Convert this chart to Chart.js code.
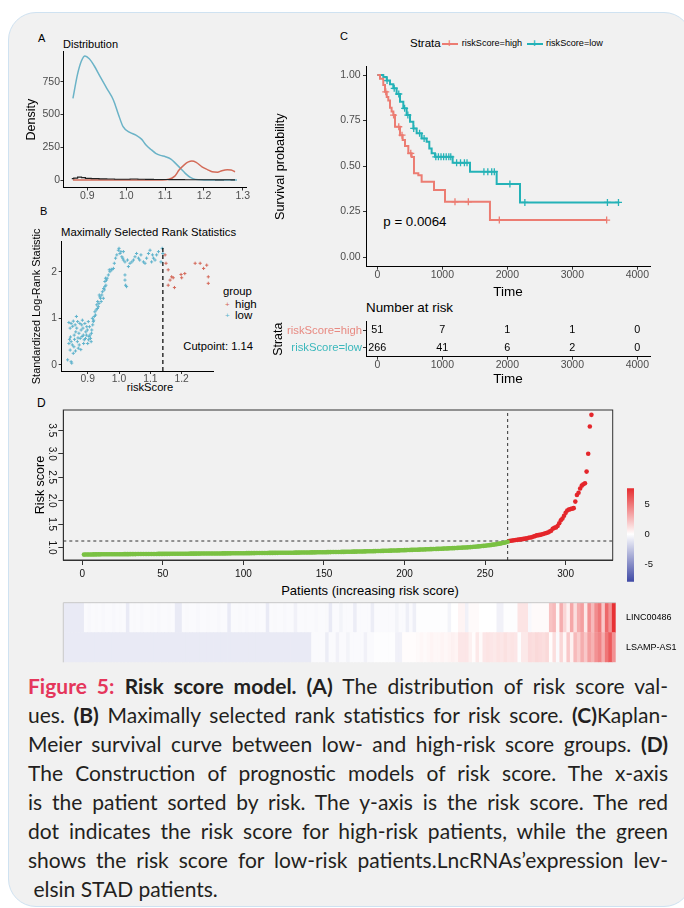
<!DOCTYPE html>
<html>
<head>
<meta charset="utf-8">
<script src="https://cdn.jsdelivr.net/npm/chart.js@4.4.1/dist/chart.umd.min.js"></script>
<style>
  html, body { margin: 0; padding: 0; background: #fff; }
  body { width: 684px; height: 908px; position: relative; overflow: hidden; font-family: "Liberation Sans", Arial, sans-serif; }
  #card { position: absolute; left: 8px; top: 12px; width: 682px; height: 893px; background: #f1f1f1; border: 1.5px solid #cfe2f1; border-radius: 28px; }
  canvas { position: absolute; }
  .t { position: absolute; line-height: 1; transform: translateY(-50%); white-space: nowrap; color: #000; }
  .c { text-align: center; }
  .key { position: absolute; height: 2px; }
  #caption { position: absolute; left: 28px; top: 670.5px; width: 640px; font-family: Lato, "Open Sans", sans-serif; font-size: 21px; line-height: 29px; color: #231f20; }
  #caption div { text-align: justify; text-align-last: justify; height: 29px; overflow: visible; }
  #caption div.last { text-align-last: left; }
  #caption .fig { color: #e5365b; font-weight: 700; }
</style>
</head>
<body>
<div id="card"></div>

<div class="t" style="left:38px;top:38px;font-size:11px">A</div>
<div class="t" style="left:63px;top:43.7px;font-size:11px">Distribution</div>

<div class="t" style="left:40px;top:211px;font-size:11px">B</div>
<div class="t" style="left:61px;top:233px;font-size:11.3px">Maximally Selected Rank Statistics</div>
<div class="t" style="left:223px;top:291.7px;font-size:11.3px">group</div>
<div class="t" style="left:225px;top:305px;font-size:8px;color:#d4695a">+</div>
<div class="t" style="left:235px;top:305px;font-size:11.5px">high</div>
<div class="t" style="left:225px;top:316px;font-size:8px;color:#5fb3cc">+</div>
<div class="t" style="left:235px;top:315.7px;font-size:11.5px">low</div>
<div class="t" style="left:183.3px;top:346.7px;font-size:11.2px">Cutpoint: 1.14</div>
<div class="t c" style="left:100px;width:100px;top:388px;font-size:11.2px">riskScore</div>

<div class="t" style="left:340px;top:35.5px;font-size:11px">C</div>
<div class="t" style="left:410px;top:44px;font-size:11.5px">Strata</div>
<div class="key" style="left:441.7px;top:43px;width:16.6px;background:#ec7c72"></div>
<div class="t" style="left:446.5px;top:44px;font-size:10px;font-weight:700;color:#ec7c72">+</div>
<div class="t" style="left:461.7px;top:44px;font-size:9.1px">riskScore=high</div>
<div class="key" style="left:526.7px;top:43px;width:16.6px;background:#24b2b7"></div>
<div class="t" style="left:531.5px;top:44px;font-size:10px;font-weight:700;color:#24b2b7">+</div>
<div class="t" style="left:546px;top:44px;font-size:9.1px">riskScore=low</div>
<div class="t" style="left:383.3px;top:221.7px;font-size:13.3px">p = 0.0064</div>
<div class="t" style="left:366px;top:308.3px;font-size:13.4px">Number at risk</div>

<div class="t" style="left:37px;top:403px;font-size:12px">D</div>
<div class="t c" style="left:270px;width:200px;top:590px;font-size:13px">Patients (increasing risk score)</div>

<div id="caption">
<div><span class="fig">Figure 5:</span> <b>Risk score model. (A)</b> The distribution of risk score val-</div>
<div>ues. <b>(B)</b> Maximally selected rank statistics for risk score. <b>(C)</b>Kaplan-</div>
<div>Meier survival curve between low- and high-risk score groups. <b>(D)</b></div>
<div>The Construction of prognostic models of risk score. The x-axis</div>
<div>is the patient sorted by risk. The y-axis is the risk score. The red</div>
<div>dot indicates the risk score for high-risk patients, while the green</div>
<div>shows the risk score for low-risk patients.LncRNAs’expression lev-</div>
<div class="last">&nbsp;elsin STAD patients.</div>
</div>

<script>
// ---------- A: distribution ----------
const densLowX = [0.863, 0.875, 0.885, 0.894, 0.905, 0.918, 0.933, 0.95, 0.967, 0.98, 0.992, 1.008, 1.025, 1.04, 1.051, 1.065, 1.076, 1.088, 1.101, 1.115, 1.127, 1.14, 1.152, 1.165, 1.178, 1.2, 1.23, 1.26, 1.285];
const densLowY = [623, 810, 910, 946, 925, 870, 789, 700, 611, 500, 407, 365, 343, 310, 267, 230, 204, 188, 178, 160, 127, 88, 51, 20, 5, 1, 0, 0, 0];
const densHighX = [0.863, 0.95, 1.05, 1.09, 1.11, 1.125, 1.136, 1.15, 1.16, 1.169, 1.18, 1.195, 1.21, 1.221, 1.235, 1.246, 1.26, 1.27, 1.28];
const densHighY = [0, 0, 0, 1, 6, 30, 76, 118, 138, 145, 135, 101, 78, 63, 60, 71, 78, 76, 63];
const histX = [0.86, 0.87, 0.88, 0.89, 0.90, 0.92, 0.94, 0.96, 0.98, 1.00, 1.02, 1.04, 1.06, 1.08, 1.10, 1.12, 1.14, 1.16, 1.18, 1.20, 1.22, 1.24, 1.26, 1.28];
const histY = [10, 14, 22, 18, 12, 10, 9, 8, 6, 6, 8, 6, 5, 4, 4, 3, 3, 2, 2, 2, 2, 1, 2, 1];
const aTicksX = [0.9, 1.0, 1.1, 1.2, 1.3];
const aTicksY = [0, 250, 500, 750];

// ---------- B: maximally selected rank statistics ----------
const bLowX = [0.836, 0.847, 0.849, 0.844, 0.840, 0.847, 0.851, 0.854, 0.844, 0.847, 0.840, 0.854, 0.860, 0.864, 0.862, 0.857, 0.867, 0.870, 0.876, 0.872, 0.881, 0.883, 0.879, 0.886, 0.889, 0.894, 0.897, 0.902, 0.900, 0.904, 0.907, 0.911, 0.913, 0.915, 0.921, 0.923, 0.918, 0.929, 0.932, 0.934, 0.937, 0.939, 0.945, 0.943, 0.950, 0.953, 0.955, 0.957, 0.960, 0.955, 0.971, 0.977, 0.982, 0.985, 0.993, 0.998, 1.000, 1.003, 1.009, 1.014, 1.014, 1.019, 1.019, 1.021, 1.024, 1.019, 1.030, 1.035, 1.046, 1.051, 1.056, 1.062, 1.070, 1.078, 1.083, 1.088, 1.094, 1.099, 1.104, 1.115, 1.120, 1.126, 1.134, 1.138, 1.140,
  0.842, 0.845, 0.852, 0.856, 0.858, 0.861, 0.865, 0.868, 0.869, 0.873, 0.875, 0.878, 0.882, 0.885, 0.887, 0.891, 0.893, 0.896, 0.899, 0.903, 0.906, 0.909, 0.912, 0.916, 0.919, 0.925, 0.927, 0.931, 0.936, 0.941, 0.947, 0.951, 0.958, 0.962, 0.966, 0.969, 0.975, 0.989, 1.006, 1.012, 1.027, 1.041, 1.066, 1.107, 1.110];
const bLowY = [0.11, 0.07, 0.04, 0.32, 0.46, 0.50, 0.43, 0.25, 0.79, 0.89, 0.91, 0.94, 0.86, 1.04, 0.71, 0.64, 0.50, 0.36, 0.57, 0.68, 0.86, 0.96, 0.75, 0.64, 0.54, 0.71, 0.82, 0.93, 0.46, 0.61, 0.64, 0.50, 0.75, 1.00, 1.04, 1.14, 0.93, 1.29, 1.36, 1.25, 1.50, 1.46, 1.50, 1.36, 1.43, 1.61, 1.68, 1.86, 1.82, 1.79, 2.00, 2.04, 2.07, 2.18, 2.36, 2.46, 2.50, 2.39, 2.32, 2.43, 2.25, 2.21, 1.93, 1.71, 1.68, 1.82, 2.11, 2.18, 2.25, 2.32, 2.39, 2.29, 2.36, 2.21, 2.18, 2.29, 2.39, 2.46, 2.21, 2.25, 2.36, 2.43, 2.21, 2.50, 2.39,
  0.55, 0.60, 0.83, 0.39, 0.55, 0.30, 0.79, 0.93, 0.58, 0.43, 0.89, 0.33, 0.61, 0.79, 0.46, 0.89, 0.57, 0.64, 0.75, 0.54, 0.82, 0.57, 0.68, 0.86, 0.96, 1.07, 1.18, 1.21, 1.32, 1.43, 1.57, 1.64, 1.71, 1.86, 1.93, 2.04, 2.05, 2.29, 2.43, 2.29, 2.25, 2.21, 2.25, 2.36, 2.29];
const bHighX = [1.147, 1.150, 1.157, 1.163, 1.157, 1.168, 1.173, 1.177, 1.198, 1.200, 1.210, 1.243, 1.259, 1.270, 1.280, 1.285, 1.285];
const bHighY = [2.36, 2.18, 2.04, 1.82, 1.71, 1.89, 1.87, 1.66, 1.94, 1.87, 1.96, 2.18, 2.18, 2.07, 2.14, 1.89, 1.75];
const cutPoint = 1.14;
const cutStat = 2.53;
const bTicksX = [0.9, 1.0, 1.1, 1.2];
const bTicksY = [0, 1, 2];

// ---------- C: Kaplan-Meier ----------
const hiTime = [0, 41, 92, 118, 145, 169, 195, 220, 246, 272, 349, 390, 426, 477, 528, 564, 631, 682, 872, 1041, 1733, 3528];
const hiSurv = [1, 0.98, 0.945, 0.908, 0.88, 0.86, 0.82, 0.80, 0.78, 0.716, 0.67, 0.643, 0.61, 0.57, 0.55, 0.46, 0.45, 0.414, 0.368, 0.304, 0.203, 0.203];
const hiCensT = [130, 250, 330, 380, 515, 1195, 1400, 1877, 3528];
const hiCensS = [0.908, 0.78, 0.716, 0.67, 0.57, 0.304, 0.304, 0.203, 0.203];
const loTime = [0, 92, 144, 195, 246, 297, 349, 400, 451, 503, 554, 605, 682, 759, 800, 836, 887, 1159, 1426, 1836, 2195, 3723];
const loSurv = [1, 0.99, 0.97, 0.95, 0.927, 0.896, 0.853, 0.817, 0.78, 0.744, 0.707, 0.68, 0.652, 0.634, 0.597, 0.57, 0.551, 0.518, 0.469, 0.401, 0.30, 0.30];
const loCensT = [150, 260, 330, 420, 470, 560, 650, 720, 900, 940, 980, 1020, 1060, 1100, 1130, 1220, 1280, 1340, 1380, 1640, 1700, 1760, 1800, 2040, 2270, 3540, 3710];
const loCensS = [0.97, 0.927, 0.896, 0.817, 0.78, 0.707, 0.68, 0.652, 0.551, 0.551, 0.551, 0.551, 0.551, 0.551, 0.551, 0.518, 0.518, 0.518, 0.518, 0.469, 0.469, 0.469, 0.469, 0.401, 0.30, 0.30, 0.30];
const cTicksX = [0, 1000, 2000, 3000, 4000];
const cTicksY = [0, 0.25, 0.5, 0.75, 1];
const riskGroups = ['riskScore=high', 'riskScore=low'];
const riskTimes = [0, 1000, 2000, 3000, 4000];
const riskHigh = [51, 7, 1, 1, 0];
const riskLow = [266, 41, 6, 2, 0];

// ---------- D: risk score per patient ----------
const scoreLow = [
  0.850, 0.851, 0.852, 0.852, 0.853, 0.853, 0.854, 0.854, 0.855, 0.855,
  0.855, 0.856, 0.856, 0.856, 0.857, 0.857, 0.857, 0.858, 0.858, 0.858,
  0.858, 0.859, 0.859, 0.859, 0.859, 0.860, 0.860, 0.860, 0.860, 0.861,
  0.861, 0.861, 0.861, 0.862, 0.862, 0.862, 0.862, 0.862, 0.863, 0.863,
  0.863, 0.863, 0.864, 0.864, 0.864, 0.864, 0.865, 0.865, 0.865, 0.865,
  0.866, 0.866, 0.866, 0.866, 0.867, 0.867, 0.867, 0.867, 0.868, 0.868,
  0.868, 0.868, 0.869, 0.869, 0.869, 0.869, 0.870, 0.870, 0.870, 0.870,
  0.871, 0.871, 0.871, 0.872, 0.872, 0.872, 0.872, 0.873, 0.873, 0.873,
  0.874, 0.874, 0.874, 0.875, 0.875, 0.875, 0.876, 0.876, 0.876, 0.877,
  0.877, 0.877, 0.878, 0.878, 0.878, 0.879, 0.879, 0.879, 0.880, 0.880,
  0.880, 0.881, 0.881, 0.881, 0.882, 0.882, 0.882, 0.883, 0.883, 0.883,
  0.884, 0.884, 0.884, 0.885, 0.885, 0.886, 0.886, 0.886, 0.887, 0.887,
  0.887, 0.888, 0.888, 0.889, 0.889, 0.889, 0.890, 0.890, 0.891, 0.891,
  0.891, 0.892, 0.892, 0.893, 0.893, 0.894, 0.894, 0.895, 0.895, 0.896,
  0.896, 0.897, 0.897, 0.898, 0.898, 0.899, 0.899, 0.900, 0.900, 0.901,
  0.901, 0.902, 0.903, 0.903, 0.904, 0.904, 0.905, 0.906, 0.906, 0.907,
  0.908, 0.908, 0.909, 0.910, 0.910, 0.911, 0.912, 0.913, 0.913, 0.914,
  0.915, 0.916, 0.916, 0.917, 0.918, 0.919, 0.920, 0.921, 0.922, 0.923,
  0.924, 0.925, 0.926, 0.927, 0.928, 0.929, 0.930, 0.931, 0.932, 0.933,
  0.934, 0.935, 0.936, 0.937, 0.938, 0.940, 0.941, 0.942, 0.943, 0.945,
  0.946, 0.947, 0.948, 0.950, 0.951, 0.952, 0.954, 0.955, 0.956, 0.958,
  0.959, 0.960, 0.962, 0.963, 0.964, 0.966, 0.967, 0.969, 0.970, 0.972,
  0.973, 0.975, 0.976, 0.978, 0.979, 0.981, 0.982, 0.984, 0.986, 0.988,
  0.989, 0.991, 0.993, 0.995, 0.997, 0.999, 1.001, 1.003, 1.005, 1.008,
  1.010, 1.013, 1.016, 1.019, 1.022, 1.025, 1.029, 1.032, 1.036, 1.040,
  1.044, 1.048, 1.052, 1.057, 1.062, 1.067, 1.072, 1.078, 1.084, 1.090,
  1.097, 1.104, 1.112, 1.125];
const scoreHigh = [
  1.140, 1.145, 1.150, 1.155, 1.160, 1.165, 1.170, 1.175, 1.180, 1.185,
  1.190, 1.200, 1.210, 1.215, 1.220, 1.235, 1.245, 1.260, 1.265, 1.270,
  1.280, 1.290, 1.300, 1.310, 1.320, 1.340, 1.360, 1.400, 1.420, 1.430,
  1.460, 1.520, 1.580, 1.620, 1.680, 1.740, 1.790, 1.810, 1.820, 1.830,
  1.840, 1.980, 2.120, 2.170, 2.260, 2.320, 2.350, 2.370,
  2.620, 3.000, 3.580, 3.830];
const riskCut = 1.14;
const dTicksX = [0, 50, 100, 150, 200, 250, 300];
const dTicksY = [1.0, 1.5, 2.0, 2.5, 3.0, 3.5];

// ---------- heatmap (columns of two patients each) ----------
const hmGenes = ['LINC00486', 'LSAMP-AS1'];
const hmLinc = [
  -0.9, -0.9, -0.9, -0.9, -0.9, -0.9,
  -0.2, -0.3, -0.2, -0.25, -0.2, -0.3, -0.2, -0.2, -0.3, -0.2, -0.25, -0.2,
  -0.9,
  -0.2, -0.25, -0.2, -0.3, -0.2, -0.2, -0.25, -0.2, -0.3, -0.2, -0.2, -0.25, -0.2,
  -0.9, -0.9,
  -0.2, -0.25, -0.2, -0.2, -0.3, -0.2, -0.2, -0.25, -0.2, -0.2, -0.3, -0.2, -0.2,
  -0.9,
  -0.2, -0.2, -0.25, -0.2, -0.3, -0.2, -0.2, -0.25, -0.2, -0.2,
  -0.9,
  -0.2, -0.25, -0.2, -0.2, -0.3, -0.2, -0.2,
  -0.6,
  -0.2, -0.2, -0.25, -0.2, -0.2, -0.3, -0.2, -0.2, -0.25,
  -0.9,
  -0.2, -0.2, -0.5, -0.2, -0.2, -0.2,
  -0.8,
  -0.2, -0.2, -0.2, -0.2,
  -0.8,
  -0.2, -0.2, -0.2, -0.2, -0.2, -0.2, -0.5, -0.2, -0.2,
  -0.7, -0.2, -0.7,
  -0.1, -0.1, -0.1, -0.1, -0.1, -0.1, -0.1, -0.1, -0.1,
  -0.5, 0, 0, 0.4, 0.4, -0.6, 0.2, 0.2, 0.2,
  0, 0, 0, 0, 0,
  -0.6, -0.6, -0.1, -0.1, -0.1, -0.1,
  1.0, 1.0, 1.0, -0.3,
  0.2, 0.2, 0.2, 0.2, 0.2,
  2.2,
  2.5, 0.3, 3.0, 1.5, 0.5, 3.2, 1.2, 3.0, 3.5, 0.8, 4.0, 2.5, 4.2, 5.0, 2.0, 5.5, 4.0, 7.5];
const hmLsamp = [
  -0.9, -0.9, -0.9, -0.9, -0.9, -0.9, -0.9, -0.9, -0.9, -0.9,
  -0.9, -0.9, -0.9, -0.9, -0.9, -0.9, -0.9, -0.9, -0.9, -0.9,
  -0.9, -0.9, -0.9, -0.9, -0.9, -0.9, -0.9, -0.9, -0.9, -0.9,
  -0.9, -0.9, -0.9, -0.9, -0.9, -0.9, -0.9, -0.9, -0.9, -0.9,
  -0.9, -0.9, -0.9, -0.9, -0.9, -0.9, -0.9, -0.9, -0.9, -0.9,
  -0.9, -0.9, -0.9, -0.9, -0.9, -0.9, -0.9, -0.9, -0.9, -0.9,
  -0.9, -0.9, -0.9, -0.9, -0.9, -0.9, -0.9, -0.9, -0.9, -0.9,
  -0.9,
  -0.2, -0.2, -0.2, -0.2,
  -0.8,
  -0.2,
  -0.2, -0.6, -0.2, -0.2, -0.5, -0.2, -0.2, -0.2, -0.2, -0.6, -0.2, -0.2,
  -0.1, -0.1, -0.1, -0.1, -0.1, -0.1,
  -0.6, -0.6,
  0.1, 0.1, 0.1, 0.1,
  0.2, 0.3, 0.2, 0.3, 0.4, 0.3, 0.3, 0.4, 0.3, 0.4, 0.5, 0.4,
  0.9, 0.9, 0.9,
  0.5, 0.1, 0.8, 0.2,
  0.9, 1.0, 0.9, 0.8, 1.0, 0.9, 1.1, 0.9, 1.0, 0.9,
  -0.1,
  0.8, 0.8,
  1.3, 1.2, 1.4, 1.3, 1.2, 1.4,
  0.1, 1.2, -0.2, 1.5, 0.3,
  2.0, 0.5, 2.5, 1.8,
  3.0, 2.0, 3.5, 2.8, 4.0,
  4.5, 3.0, 5.0, 6.0, 4.0];
const cbRange = [-7.97, 7.66];
const cbTicks = [-5, 0, 5];

// ---------- helpers ----------
Chart.defaults.font.family = '"Liberation Sans", Arial, sans-serif';
Chart.defaults.color = '#4d4d4d';
Chart.defaults.animation = false;
Chart.defaults.responsive = false;
Chart.defaults.maintainAspectRatio = false;
Chart.defaults.plugins.legend.display = false;
Chart.defaults.plugins.tooltip.enabled = false;

function makeCanvas(id, left, top, w, h) {
  const c = document.createElement('canvas');
  c.id = id;
  c.width = w;
  c.height = h;
  c.style.left = left + 'px';
  c.style.top = top + 'px';
  c.style.width = w + 'px';
  c.style.height = h + 'px';
  document.body.appendChild(c);
  return c.getContext('2d');
}
const setTicks = values => scale => { scale.ticks = values.map(v => ({ value: v })); };
const fixWidth = w => scale => { scale.width = w; };
const fixHeight = h => scale => { scale.height = h; };
const pts = (xs, ys) => xs.map((x, i) => ({ x, y: ys[i] }));

const ggGrid = { display: true, drawOnChartArea: false, drawTicks: true, tickLength: 3, color: '#333' };
const ggBorder = { display: true, color: '#000', width: 1 };

function heatColor(v) {
  const t = Math.min(Math.abs(v) / 8, 1);
  const end = v < 0 ? [62, 72, 165] : [229, 35, 38];
  const c = end.map(e => Math.round(255 + (e - 255) * t));
  return `rgb(${c.join(',')})`;
}

// ---------- A ----------
new Chart(makeCanvas('chartA', 0, 40, 262, 172), {
  type: 'scatter',
  data: {
    datasets: [
      { data: pts(histX, histY), showLine: true, stepped: 'middle', borderColor: '#222', borderWidth: 1.2, pointRadius: 0 },
      { data: pts(densHighX, densHighY), showLine: true, cubicInterpolationMode: 'monotone', borderColor: '#d36b58', borderWidth: 1.5, pointRadius: 0 },
      { data: pts(densLowX, densLowY), showLine: true, cubicInterpolationMode: 'monotone', borderColor: '#6bb3c7', borderWidth: 1.5, pointRadius: 0 }
    ]
  },
  options: {
    layout: { padding: { left: 0, top: 11.7, right: 15.3, bottom: 0 } },
    scales: {
      x: {
        type: 'linear', min: 0.8387, max: 1.31,
        afterBuildTicks: setTicks(aTicksX), afterFit: fixHeight(24.5),
        grid: ggGrid, border: ggBorder,
        ticks: { font: { size: 10.5 }, padding: -1, callback: v => v.toFixed(1) }
      },
      y: {
        type: 'linear', min: -57, max: 979,
        afterBuildTicks: setTicks(aTicksY), afterFit: fixWidth(63.5),
        grid: ggGrid, border: ggBorder,
        ticks: { font: { size: 10.5 }, padding: 0.5, callback: v => String(v) },
        title: { display: true, text: 'Density', color: '#000', font: { size: 12.5 }, padding: { top: 24.2, bottom: 0 } }
      }
    }
  }
});

// ---------- B ----------
new Chart(makeCanvas('chartB', 0, 225, 262, 172), {
  type: 'scatter',
  data: {
    datasets: [
      { data: [{ x: cutPoint, y: -0.129 }, { x: cutPoint, y: cutStat }], showLine: true, borderDash: [4, 3], borderColor: '#000', borderWidth: 1.2, pointRadius: 0 },
      { data: pts(bLowX, bLowY), pointStyle: 'cross', pointRadius: 1.6, borderWidth: 1, borderColor: '#5fb3cc' },
      { data: pts(bHighX, bHighY), pointStyle: 'cross', pointRadius: 1.6, borderWidth: 1, borderColor: '#d4695a' }
    ]
  },
  options: {
    layout: { padding: { left: 0, top: 16.7, right: 48.7, bottom: 0 } },
    scales: {
      x: {
        type: 'linear', min: 0.817, max: 1.301,
        afterBuildTicks: setTicks(bTicksX), afterFit: fixHeight(26),
        grid: ggGrid, border: ggBorder,
        ticks: { font: { size: 10.3 }, padding: -1, callback: v => v.toFixed(1) }
      },
      y: {
        type: 'linear', min: -0.129, max: 2.643,
        afterBuildTicks: setTicks(bTicksY), afterFit: fixWidth(61.7),
        grid: ggGrid, border: ggBorder,
        ticks: { font: { size: 10.3 }, padding: 1.7 },
        title: { display: true, text: 'Standardized Log-Rank Statistic', color: '#000', font: { size: 10.9 }, padding: { top: 30.2, bottom: 0 } }
      }
    }
  }
});

// ---------- C ----------
const cX = {
  type: 'linear', min: -174, max: 4195,
  afterBuildTicks: setTicks(cTicksX),
  grid: ggGrid, border: ggBorder
};
new Chart(makeCanvas('chartC', 270, 55, 400, 245), {
  type: 'scatter',
  data: {
    datasets: [
      { data: pts(hiTime, hiSurv), showLine: true, stepped: true, borderColor: '#ec7c72', borderWidth: 2, pointRadius: 0 },
      { data: pts(loTime, loSurv), showLine: true, stepped: true, borderColor: '#24b2b7', borderWidth: 2, pointRadius: 0 },
      { data: pts(hiCensT, hiCensS), pointStyle: 'cross', pointRadius: 3.5, borderWidth: 1.3, borderColor: '#ec7c72' },
      { data: pts(loCensT, loCensS), pointStyle: 'cross', pointRadius: 3.5, borderWidth: 1.3, borderColor: '#24b2b7' }
    ]
  },
  options: {
    layout: { padding: { left: 0, top: 11.7, right: 20, bottom: 0 } },
    scales: {
      x: Object.assign({}, cX, {
        afterFit: fixHeight(33.3),
        ticks: { font: { size: 10.5 }, padding: -1, callback: v => String(v) },
        title: { display: true, text: 'Time', color: '#000', font: { size: 13.5 }, padding: { top: 5.2, bottom: 0 } }
      }),
      y: {
        type: 'linear', min: -0.053, max: 1.046,
        afterBuildTicks: setTicks(cTicksY), afterFit: fixWidth(96),
        grid: ggGrid, border: ggBorder,
        ticks: { font: { size: 10.5 }, padding: 2.3, callback: v => v.toFixed(2) },
        title: { display: true, text: 'Survival probability', color: '#000', font: { size: 12.7 }, padding: { top: 2.4, bottom: 0 } }
      }
    }
  }
});

// risk table
const riskText = {
  id: 'riskText',
  afterDatasetsDraw(chart) {
    const ctx = chart.ctx;
    ctx.save();
    ctx.font = '10.8px "Liberation Sans", Arial, sans-serif';
    ctx.fillStyle = '#000';
    ctx.textAlign = 'center';
    ctx.textBaseline = 'middle';
    chart.data.datasets.forEach((ds, i) => {
      chart.getDatasetMeta(i).data.forEach((el, j) => ctx.fillText(String(ds.counts[j]), el.x, el.y));
    });
    ctx.restore();
  }
};
new Chart(makeCanvas('chartRisk', 270, 312, 400, 75), {
  type: 'scatter',
  data: {
    datasets: [
      { data: riskTimes.map(t => ({ x: t, y: riskGroups[0] })), counts: riskHigh, pointRadius: 0 },
      { data: riskTimes.map(t => ({ x: t, y: riskGroups[1] })), counts: riskLow, pointRadius: 0 }
    ]
  },
  options: {
    layout: { padding: { left: 0, top: 9.7, right: 20, bottom: 0 } },
    scales: {
      x: Object.assign({}, cX, {
        afterFit: fixHeight(30.3),
        ticks: { font: { size: 10.5 }, padding: -1, callback: v => String(v) },
        title: { display: true, text: 'Time', color: '#000', font: { size: 13.5 }, padding: { top: 1.6, bottom: 0 } }
      }),
      y: {
        type: 'category', labels: riskGroups, offset: true,
        afterFit: fixWidth(96),
        grid: ggGrid, border: ggBorder,
        ticks: { font: { size: 11.3 }, padding: 1, color: ctx => ctx.index === 0 ? '#e88a82' : '#3bb8bc' },
        title: { display: true, text: 'Strata', color: '#000', font: { size: 12.5 }, padding: { top: 0.8, bottom: 0 } }
      }
    }
  },
  plugins: [riskText]
});

// ---------- D ----------
const boxPlugin = {
  id: 'box',
  afterDraw(chart) {
    const { left, top, width, height } = chart.chartArea;
    const ctx = chart.ctx;
    ctx.save();
    ctx.strokeStyle = '#333';
    ctx.lineWidth = 1;
    ctx.strokeRect(left, top, width, height);
    ctx.restore();
  }
};
const dXMin = -11.8, dXMax = 329.2, dYMin = 0.735, dYMax = 3.933;
new Chart(makeCanvas('chartD', 0, 400, 684, 205), {
  type: 'scatter',
  data: {
    datasets: [
      { data: scoreLow.map((v, i) => ({ x: i + 1, y: v })), pointRadius: 2.3, borderWidth: 0, backgroundColor: '#7ac143' },
      { data: scoreHigh.map((v, i) => ({ x: scoreLow.length + i + 1, y: v })), pointRadius: 2.3, borderWidth: 0, backgroundColor: '#e4262b' },
      { data: [{ x: dXMin, y: riskCut }, { x: dXMax, y: riskCut }], showLine: true, borderDash: [3, 3], borderColor: '#333', borderWidth: 1, pointRadius: 0 },
      { data: [{ x: scoreLow.length, y: dYMin }, { x: scoreLow.length, y: dYMax }], showLine: true, borderDash: [3, 3], borderColor: '#333', borderWidth: 1, pointRadius: 0 }
    ]
  },
  options: {
    layout: { padding: { left: 0, top: 10, right: 71.3, bottom: 0 } },
    scales: {
      x: {
        type: 'linear', min: dXMin, max: dXMax,
        afterBuildTicks: setTicks(dTicksX), afterFit: fixHeight(45),
        grid: { display: true, drawOnChartArea: false, drawTicks: true, tickLength: 5, color: '#333' },
        border: { display: true, color: '#333', width: 1 },
        ticks: { font: { size: 10 }, color: '#111', padding: 3.3, callback: v => String(v) }
      },
      y: {
        type: 'linear', min: dYMin, max: dYMax,
        afterBuildTicks: setTicks(dTicksY), afterFit: fixWidth(63.3),
        grid: { display: true, drawOnChartArea: false, drawTicks: true, tickLength: 5, color: '#333' },
        border: { display: true, color: '#333', width: 1 },
        ticks: { font: { size: 10 }, color: '#111', padding: 0, minRotation: -90, maxRotation: -90, crossAlign: 'center', autoSkip: false, callback: v => v.toFixed(1) },
        title: { display: true, text: 'Risk score', color: '#000', font: { size: 12.5 }, padding: { top: 33.1, bottom: 0 } }
      }
    }
  },
  plugins: [boxPlugin]
});

// ---------- heatmap ----------
const hmEdge = {
  id: 'hmEdge',
  afterDraw(chart) {
    const { left, top, right, bottom } = chart.chartArea;
    const ctx = chart.ctx;
    ctx.save();
    ctx.strokeStyle = '#c8c8c8';
    ctx.lineWidth = 1;
    ctx.beginPath();
    ctx.moveTo(left, bottom);
    ctx.lineTo(left, top);
    ctx.lineTo(right, top);
    ctx.stroke();
    ctx.restore();
  }
};
new Chart(makeCanvas('chartHeat', 0, 595, 684, 75), {
  type: 'bar',
  data: {
    labels: hmLinc.map((_, i) => i),
    datasets: [
      { label: hmGenes[1], data: hmLsamp.map(() => 1), backgroundColor: hmLsamp.map(heatColor), borderWidth: 0, barPercentage: 1, categoryPercentage: 1 },
      { label: hmGenes[0], data: hmLinc.map(() => 1), backgroundColor: hmLinc.map(heatColor), borderWidth: 0, barPercentage: 1, categoryPercentage: 1 }
    ]
  },
  options: {
    layout: { padding: { left: 63.3, top: 5, right: 0, bottom: 3.3 } },
    scales: {
      x: { stacked: true, display: false },
      y: {
        stacked: true, position: 'right', min: 0, max: 2,
        afterBuildTicks: setTicks([0.5, 1.5]), afterFit: fixWidth(68.3),
        grid: { display: false }, border: { display: false },
        ticks: { font: { size: 9 }, color: '#000', padding: 2.3, callback: v => v > 1 ? hmGenes[0] : hmGenes[1] }
      }
    }
  },
  plugins: [hmEdge]
});

// colour key
new Chart(makeCanvas('chartKey', 620, 480, 40, 110), {
  type: 'bar',
  data: {
    labels: ['key'],
    datasets: [{
      data: [cbRange],
      barPercentage: 1, categoryPercentage: 1, borderWidth: 0,
      backgroundColor: ctx => {
        const area = ctx.chart.chartArea;
        if (!area) return '#fff';
        const g = ctx.chart.ctx.createLinearGradient(0, area.bottom, 0, area.top);
        const mid = (0 - cbRange[0]) / (cbRange[1] - cbRange[0]);
        g.addColorStop(0, heatColor(cbRange[0]));
        g.addColorStop(mid, '#ffffff');
        g.addColorStop(1, heatColor(cbRange[1]));
        return g;
      }
    }]
  },
  options: {
    layout: { padding: { left: 7, top: 5, right: 0, bottom: 5 } },
    scales: {
      x: { display: false },
      y: {
        position: 'right', min: cbRange[0], max: cbRange[1],
        afterBuildTicks: setTicks(cbTicks), afterFit: fixWidth(26),
        grid: { display: false }, border: { display: false },
        ticks: { font: { size: 9.5 }, color: '#111', padding: 2.5, callback: v => String(v) }
      }
    }
  }
});

// keep each caption line on one line
document.querySelectorAll('#caption div').forEach(line => {
  let size = 21;
  while (line.scrollHeight > 31 && size > 14) {
    size -= 0.25;
    line.style.fontSize = size + 'px';
  }
});
</script>
</body>
</html>
